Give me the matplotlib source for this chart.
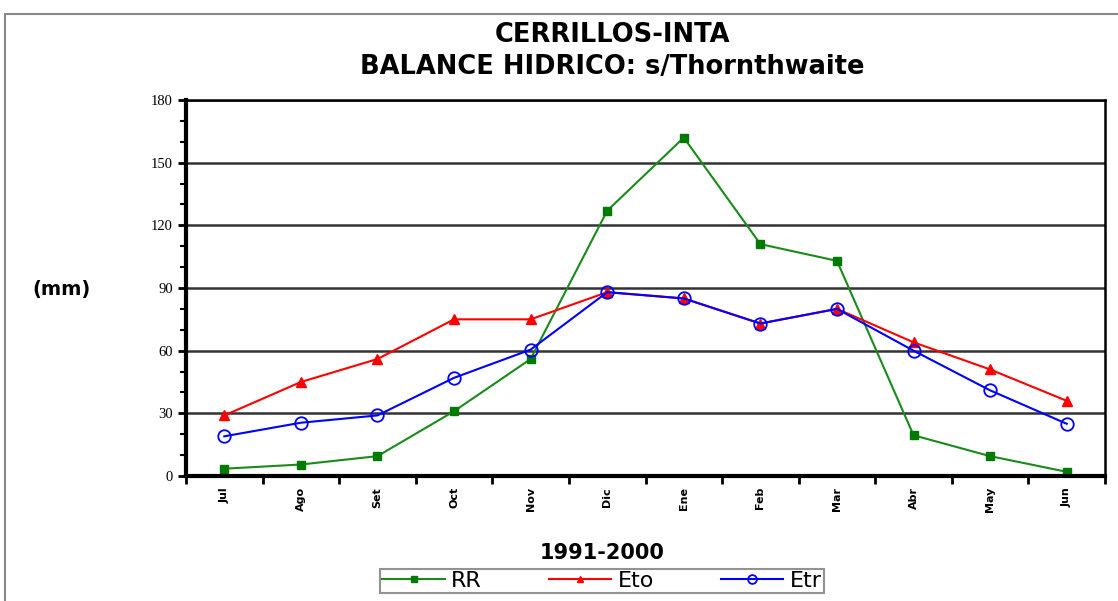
import matplotlib
matplotlib.use("Agg")
import matplotlib.pyplot as plt
from matplotlib.patches import Rectangle
from matplotlib.ticker import MultipleLocator

# monthly water balance, Jul..Jun (mm)
months = ["Jul", "Ago", "Set", "Oct", "Nov", "Dic", "Ene", "Feb", "Mar", "Abr", "May", "Jun"]
rr = [3.5, 5.5, 9.5, 31, 56, 127, 162, 111, 103, 19.5, 9.5, 2]
eto = [29, 45, 56, 75, 75, 88, 85, 73, 80, 64, 51, 36]
etr = [19, 25.5, 29, 47, 60.5, 88, 85, 73, 80, 60, 41, 25]

fig = plt.figure(figsize=(11.18, 6.01), dpi=100)
ax = fig.add_axes([186/1118, 125/601, (1105-186)/1118, 376/601])

x = list(range(len(months)))
ax.plot(x, rr, color="#1a8a1a", lw=1.5, marker="s", ms=6, mfc="#007a00", mec="#007a00", label="RR")
ax.plot(x, eto, color="red", lw=1.5, marker="^", ms=7, mfc="red", mec="red", label="Eto")
ax.plot(x, etr, color="blue", lw=1.5, marker="o", ms=9, mfc="none", mec="blue", mew=1.3, label="Etr")

ax.set_xlim(-0.5, len(months) - 0.5)
ax.set_ylim(0, 180)
ax.yaxis.set_major_locator(MultipleLocator(30))
ax.yaxis.set_minor_locator(MultipleLocator(10))
ax.grid(axis="y", which="major", color="#333333", lw=1.8)
ax.set_axisbelow(True)

# ticks between categories, labels at centres
ax.set_xticks([i - 0.5 for i in range(len(months) + 1)])
ax.set_xticklabels([])
ax.set_xticks(x, minor=True)
ax.set_xticklabels(months, minor=True, rotation=90, fontsize=8, fontweight="bold", va="top")
ax.tick_params(axis="x", which="minor", length=0, pad=8)
ax.tick_params(axis="x", which="major", length=6, width=2, direction="out")
ax.tick_params(axis="y", which="major", length=6, width=2, direction="out", labelsize=10.5)
ax.tick_params(axis="y", which="minor", length=4, width=1.5, direction="out")
for lab in ax.get_yticklabels():
    lab.set_family("Liberation Serif")

for side in ["left", "bottom"]:
    ax.spines[side].set_linewidth(3)
for side in ["top", "right"]:
    ax.spines[side].set_linewidth(1.8)

fig.text(612/1118, 1 - 35/601, "CERRILLOS-INTA", ha="center", va="center", fontsize=18.5, fontweight="bold")
fig.text(612/1118, 1 - 67/601, "BALANCE HIDRICO: s/Thornthwaite", ha="center", va="center", fontsize=18.5, fontweight="bold")
fig.text(62/1118, 1 - 290/601, "(mm)", ha="center", va="center", fontsize=14, fontweight="bold")
fig.text(602/1118, 1 - 553/601, "1991-2000", ha="center", va="center", fontsize=15, fontweight="bold")

leg = fig.legend(loc="upper center", bbox_to_anchor=(602/1118, 1 - 569/601), ncol=3, fontsize=16,
                 frameon=True, fancybox=False, edgecolor="#777777", handlelength=2.8,
                 handletextpad=0.3, columnspacing=3.0, borderpad=0.1, borderaxespad=0,
                 markerscale=0.7)
leg.get_frame().set_linewidth(1.5)

# outer chart border
fig.patches.append(Rectangle((5/1118, -0.1), 1.2, 1 - 14/601 + 0.1, transform=fig.transFigure,
                             fill=False, edgecolor="#888888", lw=1.5))

fig.savefig("out.png", dpi=100)
